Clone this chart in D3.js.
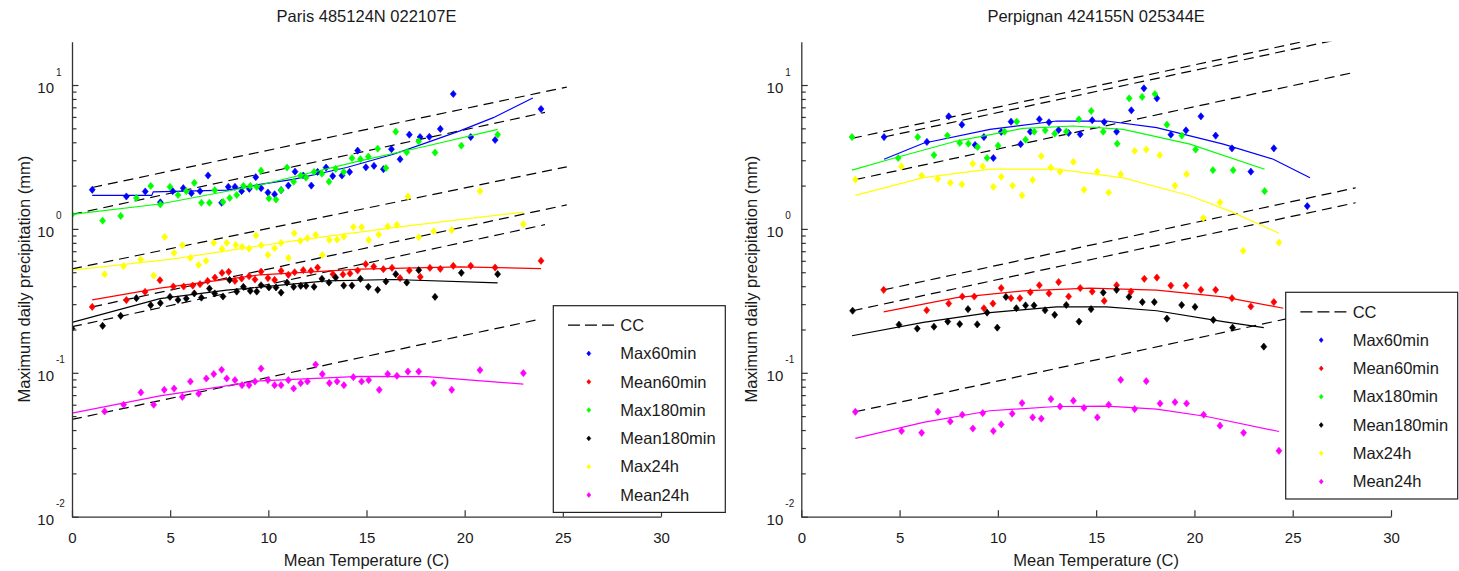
<!DOCTYPE html>
<html>
<head>
<meta charset="utf-8">
<script src="https://cdn.jsdelivr.net/npm/d3@7"></script>
<style>
  body { margin: 0; background: #fff; }
  svg { display: block; }
  text { font-family: "Liberation Sans", Arial, Helvetica, sans-serif; fill: #1a1a1a; }
</style>
</head>
<body>
<svg id="chart" width="1459" height="571"></svg>
<script>
// ---- legend / series definitions ----
const seriesNames  = ["Max60min", "Mean60min", "Max180min", "Mean180min", "Max24h", "Mean24h"];
const seriesColors = ["#0000ff", "#ff0000", "#00ff00", "#000000", "#ffff00", "#ff00ff"];
const xTickValues  = [0, 5, 10, 15, 20, 25, 30];
const yMajorValues = [0.01, 0.1, 1, 10];
const yMajorExps   = ["-2", "-1", "0", "1"];

// ---- Paris 485124N 022107E ----
const paris_max60_t  = [1.03,2.77,3.73,4.50,5.13,5.67,6.08,6.52,6.93,7.62,7.96,8.30,8.64,9.03,9.36,9.63,9.98,10.32,10.65,11.02,11.36,11.78,12.19,12.51,12.94,13.28,13.75,14.14,14.55,14.97,15.38,15.86,16.27,16.71,17.18,17.73,18.20,18.76,19.42,20.31,21.55,23.89];
const paris_max60_v  = [1.87,1.68,1.82,1.53,1.83,1.92,1.77,1.83,2.35,1.52,1.96,1.96,1.83,1.90,2.29,1.92,1.79,1.74,1.86,2.00,2.50,2.35,2.00,2.49,2.67,2.33,2.35,2.49,3.50,2.68,2.74,2.60,3.58,3.05,4.52,4.35,4.37,4.95,8.66,4.35,4.15,6.81];
const paris_mean60_t = [1.03,2.77,3.72,4.48,5.16,5.69,6.15,6.52,6.91,7.28,7.64,7.98,8.30,8.64,9.02,9.32,9.63,9.98,10.32,10.65,11.02,11.34,11.78,12.17,12.51,13.29,13.80,14.16,14.55,14.96,15.37,15.86,16.30,16.71,17.18,17.74,18.23,18.76,19.42,20.31,21.55,23.89];
const paris_mean60_v = [0.287,0.32,0.365,0.44,0.398,0.398,0.404,0.413,0.435,0.459,0.495,0.503,0.435,0.452,0.469,0.445,0.505,0.455,0.442,0.511,0.48,0.50,0.517,0.511,0.539,0.485,0.482,0.49,0.514,0.569,0.547,0.525,0.536,0.455,0.514,0.464,0.536,0.528,0.554,0.554,0.539,0.60];
const paris_180_t    = [0,1.56,2.48,3.28,4.01,4.50,4.99,5.40,5.82,6.23,6.59,7.00,7.27,7.69,8.03,8.39,8.73,9.08,9.41,9.63,10.03,10.39,10.65,10.95,11.29,11.65,11.92,12.33,12.73,13.09,13.43,13.84,14.26,14.69,15.09,15.57,15.99,16.49,17.05,17.66,18.49,19.83,21.68];
const paris_max180_v = [1.26,1.14,1.23,1.64,1.99,1.48,1.96,1.72,1.83,2.09,1.52,1.52,1.86,1.54,1.64,1.72,1.99,1.99,1.96,2.54,1.63,1.60,1.86,2.67,2.13,2.35,2.27,2.49,2.42,2.13,2.61,2.49,3.10,3.05,3.18,3.61,2.65,4.74,3.41,4.06,3.39,3.79,4.52];
const paris_mean180_v= [0.203,0.212,0.249,0.33,0.295,0.305,0.337,0.321,0.328,0.356,0.333,0.385,0.356,0.339,0.442,0.367,0.396,0.371,0.367,0.406,0.392,0.392,0.361,0.424,0.396,0.402,0.402,0.396,0.45,0.424,0.459,0.404,0.404,0.45,0.396,0.377,0.431,0.485,0.424,0.517,0.337,0.495,0.485];
const paris_max24_t  = [1.66,2.63,3.50,4.16,4.72,5.20,5.62,6.03,6.45,6.83,7.22,7.64,7.88,8.34,8.66,9.02,9.37,9.63,9.98,10.32,10.65,11.02,11.32,11.63,11.99,12.41,12.75,13.11,13.50,13.85,14.33,14.75,15.11,15.62,16.08,16.55,17.11,17.66,18.42,19.34,20.78,22.99];
const paris_max24_v  = [0.485,0.551,0.612,0.474,0.88,0.681,0.77,0.629,0.562,0.60,0.80,0.726,0.80,0.774,0.75,0.73,0.90,0.77,0.66,0.734,0.80,0.629,0.933,0.826,0.862,0.909,0.657,0.839,0.843,0.884,1.03,1.03,0.839,0.913,1.04,1.07,1.68,0.875,0.964,0.98,1.83,1.08];
const paris_mean24_t = [1.66,2.63,3.51,4.16,4.70,5.20,5.62,6.03,6.45,6.84,7.22,7.62,7.88,8.30,8.66,9.02,9.32,9.63,9.98,10.32,10.65,11.02,11.29,11.65,11.99,12.41,12.75,13.11,13.50,13.85,14.33,14.75,15.11,15.65,16.08,16.55,17.11,17.66,18.42,19.34,20.78,22.99];
const paris_mean24_v = [0.0539,0.060,0.073,0.060,0.0762,0.0778,0.068,0.087,0.0715,0.0913,0.098,0.105,0.0913,0.089,0.082,0.082,0.087,0.107,0.089,0.082,0.082,0.089,0.0778,0.0848,0.087,0.114,0.098,0.0848,0.087,0.082,0.0933,0.087,0.089,0.0762,0.098,0.0953,0.102,0.102,0.0848,0.0762,0.1045,0.0995];

// smoothed fits (Paris)
const paris_fit_max60_t   = [1.03,4.06,4.14,7.88,9.58,11.27,13.99,16.37,18.07,19.76,21.46,23.47];
const paris_fit_max60_v   = [1.71,1.71,1.81,1.86,2.04,2.21,2.67,3.30,3.98,4.80,5.93,8.12];
const paris_fit_mean60_t  = [1.03,4.48,9.58,14.67,19.76,23.89];
const paris_fit_mean60_v  = [0.321,0.388,0.48,0.525,0.545,0.53];
const paris_fit_max180_t  = [0,4.48,9.58,14.67,18.07,21.68];
const paris_fit_max180_v  = [1.26,1.49,2.02,2.97,3.77,4.92];
const paris_fit_mean180_t = [0,4.48,7.88,12.97,16.37,21.68];
const paris_fit_mean180_v = [0.224,0.328,0.375,0.435,0.445,0.422];
const paris_fit_max24_t   = [0,5.2,11.27,16.37,22.99];
const paris_fit_max24_v   = [0.517,0.62,0.826,1.02,1.31];
const paris_fit_mean24_t  = [0,4.48,9.58,14.67,18.07,22.99];
const paris_fit_mean24_v  = [0.0525,0.0692,0.088,0.0945,0.094,0.0834];

// Clausius-Clapeyron reference lines (Paris): start/end temperature and value
const paris_cc_t0 = [1.03, 0, 0, 1.03, 0, 0];
const paris_cc_v0 = [1.94, 1.26, 0.527, 0.287, 0.209, 0.0474];
const paris_cc_t1 = [25.2, 24.09, 25.2, 25.2, 24.09, 23.9];
const paris_cc_v1 = [9.68, 6.45, 2.70, 1.47, 1.07, 0.237];

// ---- Perpignan 424155N 025344E ----
const perp_max60_t   = [4.21,6.39,7.50,8.17,8.84,9.29,9.77,10.17,10.67,11.16,11.65,12.11,12.60,13.09,13.60,14.19,14.80,15.41,16.04,16.79,17.43,18.09,18.80,19.57,20.33,21.08,21.91,22.87,24.04,25.74];
const perp_max60_v   = [4.35,4.02,6.06,5.30,3.83,4.35,3.11,4.72,5.56,3.88,4.74,5.78,5.51,4.87,4.64,4.54,5.69,5.53,4.74,6.67,9.49,8.08,4.52,4.84,6.06,4.45,3.63,2.50,3.63,1.44];
const perp_mean60_t  = [4.19,6.38,7.50,8.19,8.80,9.29,9.75,10.17,10.67,11.12,11.65,12.11,12.60,13.09,13.60,14.19,14.80,15.41,16.04,16.77,17.45,18.09,18.80,19.57,20.33,21.08,21.91,22.87,24.04];
const perp_mean60_v  = [0.377,0.272,0.303,0.339,0.339,0.281,0.303,0.388,0.33,0.33,0.363,0.406,0.356,0.427,0.339,0.388,0.367,0.316,0.406,0.367,0.45,0.459,0.404,0.404,0.377,0.377,0.33,0.289,0.31];
const perp_max180_t  = [2.58,4.93,5.92,6.75,7.43,8.06,8.50,8.97,9.45,10.01,10.34,10.96,11.41,11.85,12.41,12.89,13.48,14.12,14.75,15.36,16.07,16.68,17.34,17.99,18.60,19.36,20.06,20.94,21.97,23.57];
const perp_max180_v  = [4.35,3.11,4.35,3.26,4.45,3.96,3.91,3.71,3.11,3.79,4.74,5.56,4.17,4.74,4.84,4.59,4.74,5.78,6.60,4.74,3.91,8.08,8.26,8.66,5.30,4.45,3.56,2.56,2.56,1.83];
const perp_mean180_t = [2.61,4.97,5.90,6.75,7.45,8.06,8.48,8.95,9.45,9.97,10.41,10.94,11.41,11.84,12.40,12.89,13.48,14.13,14.74,15.36,16.04,16.67,17.35,17.96,18.60,19.35,20.03,20.96,21.94,23.53];
const perp_mean180_v = [0.27,0.216,0.203,0.209,0.227,0.218,0.277,0.217,0.262,0.206,0.337,0.281,0.294,0.294,0.272,0.253,0.296,0.227,0.277,0.361,0.377,0.337,0.31,0.31,0.238,0.296,0.287,0.233,0.206,0.152];
const perp_max24_t   = [2.75,5.09,6.12,6.94,7.58,8.17,8.72,9.23,9.77,10.17,10.75,11.23,11.77,12.21,12.69,13.16,13.84,14.38,15.06,15.64,16.25,16.96,17.55,18.23,19.01,19.60,20.45,21.30,22.48,24.30];
const perp_max24_v   = [2.20,2.72,2.35,2.23,2.09,2.04,2.84,2.72,1.96,2.30,2.00,1.71,2.19,3.20,2.67,2.50,2.92,1.87,2.50,1.79,2.40,3.48,3.56,3.25,2.00,2.40,1.19,1.53,0.704,0.803];
const perp_mean24_t  = [2.75,5.10,6.12,6.95,7.58,8.19,8.73,9.23,9.77,10.17,10.73,11.23,11.77,12.21,12.70,13.16,13.84,14.38,15.06,15.64,16.25,16.96,17.55,18.25,19.01,19.60,20.47,21.30,22.50,24.30];
const perp_mean24_v  = [0.0536,0.0394,0.0383,0.0536,0.0459,0.0511,0.041,0.0525,0.0394,0.0438,0.052,0.0616,0.049,0.048,0.0657,0.0583,0.064,0.057,0.049,0.060,0.0894,0.056,0.0875,0.0612,0.0625,0.0612,0.0511,0.0429,0.0383,0.0287];

// smoothed fits (Perpignan)
const perp_fit_max60_t   = [4.21,6.21,9.60,12.99,15.53,18.08,21.47,24.01,25.88];
const perp_fit_max60_v   = [3.05,3.94,4.92,5.62,5.62,5.05,3.88,3.05,2.27];
const perp_fit_mean60_t  = [4.19,7.90,11.29,14.68,18.08,21.47,24.52];
const perp_fit_mean60_v  = [0.265,0.333,0.371,0.388,0.375,0.337,0.281];
const perp_fit_max180_t  = [2.58,4.51,7.90,11.29,13.84,16.38,19.77,23.57];
const perp_fit_max180_v  = [2.56,3.05,4.08,5.00,5.19,4.92,3.88,2.60];
const perp_fit_mean180_t = [2.58,6.21,9.60,12.99,15.53,18.08,21.47,23.53];
const perp_fit_mean180_v = [0.181,0.224,0.262,0.287,0.287,0.27,0.227,0.206];
const perp_fit_max24_t   = [2.75,6.21,9.60,12.99,16.38,19.77,21.81,24.30];
const perp_fit_max24_v   = [1.71,2.27,2.60,2.60,2.26,1.70,1.33,0.933];
const perp_fit_mean24_t  = [2.75,6.21,9.60,12.99,15.53,18.08,20.62,24.30];
const perp_fit_mean24_v  = [0.035,0.0452,0.0545,0.0583,0.0587,0.056,0.0497,0.0391];

// Clausius-Clapeyron reference lines (Perpignan)
const perp_cc_t0 = [4.21, 2.58, 2.75, 4.19, 2.61, 2.75];
const perp_cc_v0 = [4.35, 4.26, 2.20, 0.377, 0.27, 0.0536];
const perp_cc_t1 = [28.2, 28.2, 28.2, 28.2, 28.2, 28.2];
const perp_cc_v1 = [22.0, 24.0, 12.3, 1.93, 1.52, 0.301];

// ---- drawing ----
const svg = d3.select("#chart");
const yTop = 41.7, yBottom = 516.7;

function zip(t, v) { return t.map((d, i) => [d, v[i]]); }

function drawPanel(p) {
  const x = d3.scaleLinear().domain([0, 30]).range([p.x0, p.x1]);
  const y = d3.scaleLog().domain([0.01, 20]).range([yBottom, yTop]);
  const g = svg.append("g");
  const clipId = "clip-" + p.id;
  svg.append("clipPath").attr("id", clipId).append("rect")
    .attr("x", p.x0).attr("y", yTop).attr("width", p.x1 - p.x0).attr("height", yBottom - yTop);

  const plot = g.append("g").attr("clip-path", `url(#${clipId})`);

  // reference lines
  p.ccT0.forEach((t0, i) => {
    plot.append("line")
      .attr("x1", x(t0)).attr("y1", y(p.ccV0[i]))
      .attr("x2", x(p.ccT1[i])).attr("y2", y(p.ccV1[i]))
      .attr("stroke", "#000").attr("stroke-width", 1.2)
      .attr("stroke-dasharray", "10,6");
  });

  const line = d3.line().x(d => x(d[0])).y(d => y(d[1]));
  const diamond = "M0,-3.6L3,0L0,3.6L-3,0Z";

  p.series.forEach((s, k) => {
    plot.append("path").datum(zip(s.ft, s.fv))
      .attr("d", line).attr("fill", "none")
      .attr("stroke", seriesColors[k]).attr("stroke-width", 1.2);
    plot.append("g").selectAll("path").data(zip(s.t, s.v)).join("path")
      .attr("d", diamond)
      .attr("transform", d => `translate(${x(d[0])},${y(d[1])})`)
      .attr("fill", seriesColors[k]).attr("stroke", seriesColors[k]).attr("stroke-width", 0.6);
  });

  // x axis (ticks pointing inward)
  const xa = g.append("g").attr("transform", `translate(0,${yBottom})`)
    .call(d3.axisBottom(x).tickValues(xTickValues).tickSizeInner(-6.5).tickSizeOuter(0).tickPadding(16));
  xa.select(".domain").attr("stroke", "#333").attr("stroke-width", 1.3);
  xa.selectAll(".tick line").attr("stroke", "#333").attr("stroke-width", 1.2);
  xa.selectAll(".tick text").style("font-size", "15px").attr("fill", "#1a1a1a")
    .style("font-family", '"Liberation Sans", Arial, sans-serif');

  // y axis: minor ticks then major ticks
  const minor = [];
  [0.01, 0.1, 1, 10].forEach(dec => { for (let m = 2; m <= 9; m++) { const v = m * dec; if (v < 20) minor.push(v); } });
  const ym = g.append("g").attr("transform", `translate(${p.x0},0)`)
    .call(d3.axisLeft(y).tickValues(minor).tickSizeInner(-4.5).tickSizeOuter(0).tickFormat(""));
  ym.select(".domain").attr("stroke", "#333").attr("stroke-width", 1.3);
  ym.selectAll(".tick line").attr("stroke", "#333").attr("stroke-width", 1.2);
  const yM = g.append("g").attr("transform", `translate(${p.x0},0)`)
    .call(d3.axisLeft(y).tickValues(yMajorValues).tickSizeInner(-6.5).tickSizeOuter(0).tickFormat(""));
  yM.select(".domain").remove();
  yM.selectAll(".tick line").attr("stroke", "#333").attr("stroke-width", 1.2);

  // 10^n labels
  yMajorValues.forEach((v, i) => {
    const ty = y(v);
    g.append("text").attr("x", p.x0 - 18).attr("y", ty + 3).attr("dy", "0.35em")
      .attr("text-anchor", "end").style("font-size", "15px").text("10");
    g.append("text").attr("x", p.x0 - 16).attr("y", ty - 13).attr("dy", "0.35em")
      .attr("text-anchor", "start").style("font-size", "10px").text(yMajorExps[i]);
  });

  // title & axis labels
  const cx = (p.x0 + p.x1) / 2;
  g.append("text").attr("x", cx).attr("y", 16).attr("dy", "0.35em")
    .attr("text-anchor", "middle").style("font-size", "16.5px").text(p.title);
  g.append("text").attr("x", cx).attr("y", 560).attr("dy", "0.35em")
    .attr("text-anchor", "middle").style("font-size", "16.5px").text("Mean Temperature (C)");
  g.append("text").attr("transform", `translate(${p.ylabelX},${(yTop + yBottom) / 2}) rotate(-90)`)
    .attr("dy", "0.35em").attr("text-anchor", "middle").style("font-size", "16.5px")
    .text("Maximum daily precipitation (mm)");

  // legend
  const lg = g.append("g").attr("transform", `translate(${p.legX},${p.legY})`);
  lg.append("rect").attr("width", 172).attr("height", 206.7)
    .attr("fill", "#fff").attr("stroke", "#222").attr("stroke-width", 1.2);
  const rowY = i => 19.5 + 28.3 * i;
  lg.append("line").attr("x1", 14.7).attr("x2", 61.7).attr("y1", rowY(0)).attr("y2", rowY(0))
    .attr("stroke", "#000").attr("stroke-width", 1.2).attr("stroke-dasharray", "12,5");
  lg.append("text").attr("x", 67).attr("y", rowY(0)).attr("dy", "0.35em")
    .style("font-size", "16.5px").text("CC");
  seriesNames.forEach((name, k) => {
    const ry = rowY(k + 1);
    lg.append("path").attr("d", "M0,-2.4L2,0L0,2.4L-2,0Z")
      .attr("transform", `translate(35.5,${ry})`).attr("fill", seriesColors[k])
      .attr("stroke", seriesColors[k]).attr("stroke-width", 0.6);
    lg.append("text").attr("x", 67).attr("y", ry).attr("dy", "0.35em")
      .style("font-size", "16.5px").text(name);
  });
}

drawPanel({
  id: "paris", title: "Paris 485124N 022107E", x0: 72, x1: 661, ylabelX: 24.5,
  legX: 553.3, legY: 305.7,
  ccT0: paris_cc_t0, ccV0: paris_cc_v0, ccT1: paris_cc_t1, ccV1: paris_cc_v1,
  series: [
    { t: paris_max60_t,  v: paris_max60_v,   ft: paris_fit_max60_t,   fv: paris_fit_max60_v },
    { t: paris_mean60_t, v: paris_mean60_v,  ft: paris_fit_mean60_t,  fv: paris_fit_mean60_v },
    { t: paris_180_t,    v: paris_max180_v,  ft: paris_fit_max180_t,  fv: paris_fit_max180_v },
    { t: paris_180_t,    v: paris_mean180_v, ft: paris_fit_mean180_t, fv: paris_fit_mean180_v },
    { t: paris_max24_t,  v: paris_max24_v,   ft: paris_fit_max24_t,   fv: paris_fit_max24_v },
    { t: paris_mean24_t, v: paris_mean24_v,  ft: paris_fit_mean24_t,  fv: paris_fit_mean24_v }
  ]
});

drawPanel({
  id: "perp", title: "Perpignan 424155N 025344E", x0: 801.3, x1: 1391, ylabelX: 751,
  legX: 1285.7, legY: 292.3,
  ccT0: perp_cc_t0, ccV0: perp_cc_v0, ccT1: perp_cc_t1, ccV1: perp_cc_v1,
  series: [
    { t: perp_max60_t,   v: perp_max60_v,   ft: perp_fit_max60_t,   fv: perp_fit_max60_v },
    { t: perp_mean60_t,  v: perp_mean60_v,  ft: perp_fit_mean60_t,  fv: perp_fit_mean60_v },
    { t: perp_max180_t,  v: perp_max180_v,  ft: perp_fit_max180_t,  fv: perp_fit_max180_v },
    { t: perp_mean180_t, v: perp_mean180_v, ft: perp_fit_mean180_t, fv: perp_fit_mean180_v },
    { t: perp_max24_t,   v: perp_max24_v,   ft: perp_fit_max24_t,   fv: perp_fit_max24_v },
    { t: perp_mean24_t,  v: perp_mean24_v,  ft: perp_fit_mean24_t,  fv: perp_fit_mean24_v }
  ]
});
</script>
</body>
</html>
